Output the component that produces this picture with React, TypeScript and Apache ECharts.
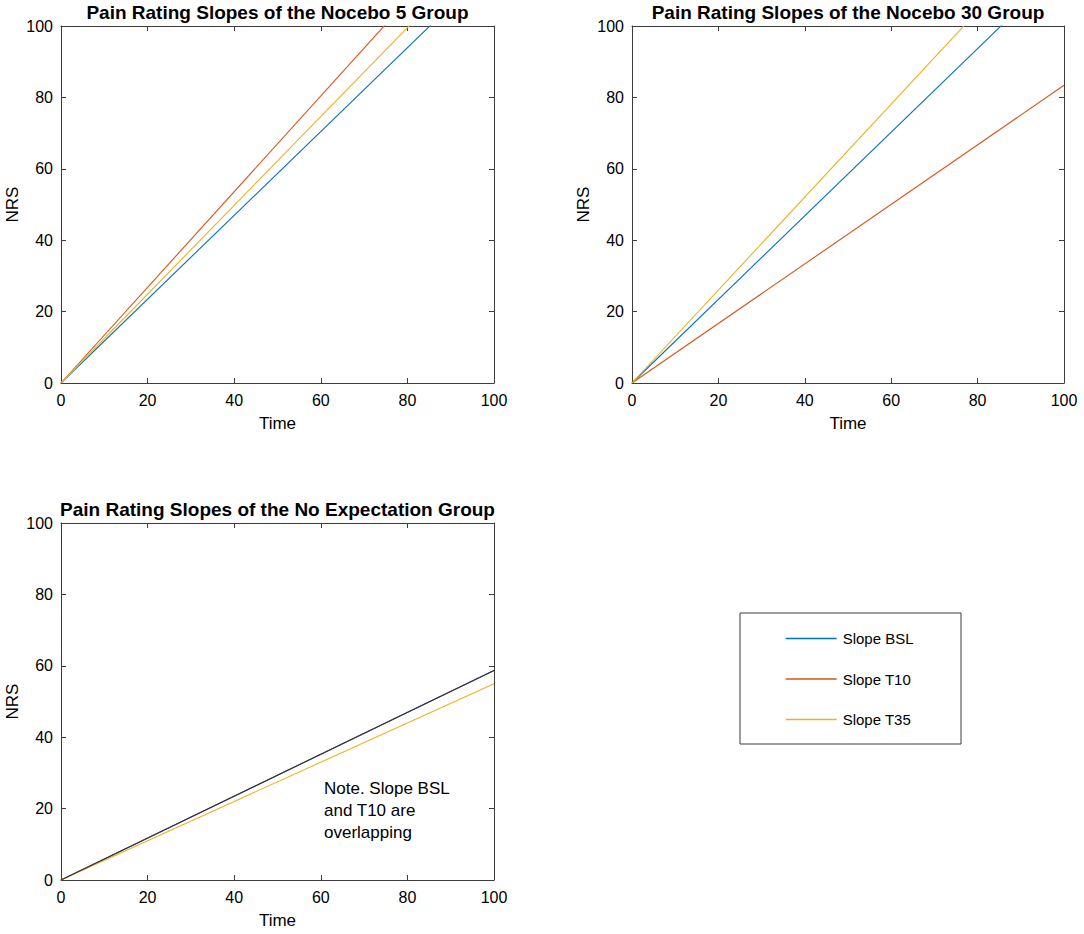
import React, { useEffect, useRef } from "react";
import * as echarts from "echarts";

const seriesNames = ["Slope BSL", "Slope T10", "Slope T35"];
const seriesColors = ["#0072BD", "#D95319", "#EDB120"];
const timePoints = [0, 100];
const titles = [
  "Pain Rating Slopes of the Nocebo 5 Group",
  "Pain Rating Slopes of the Nocebo 30 Group",
  "Pain Rating Slopes of the No Expectation Group",
];
// NRS value at Time = 0 and Time = 100 for each slope (lines start at 0)
const nocebo5End = [117.4, 134.0, 124.4];
const nocebo30End = [117.1, 83.4, 130.2];
const noExpectationEnd = [58.7, 58.7, 55.0];
const panelEnds = [nocebo5End, nocebo30End, noExpectationEnd];
const noteText = "Note. Slope BSL\nand T10 are\noverlapping";

const FONT = "'Liberation Sans', Arial, Helvetica, sans-serif";
const AXIS_COLOR = "#3c3c3c";

const grids = [
  { left: 61, top: 26, width: 433, height: 357 },
  { left: 632, top: 26, width: 432, height: 357 },
  { left: 61, top: 523, width: 433, height: 357 },
];

export default function App() {
  const ref = useRef<HTMLDivElement>(null);
  useEffect(() => {
    if (!ref.current) return;
    const chart = echarts.init(ref.current, undefined, { renderer: "svg" });

    const xAxes: any[] = [];
    const yAxes: any[] = [];
    const series: any[] = [];
    const title: any[] = [];

    grids.forEach((g, i) => {
      const baseAxis = {
        type: "value",
        gridIndex: i,
        min: 0,
        max: 100,
        interval: 20,
        axisLine: { show: true, onZero: false, lineStyle: { color: AXIS_COLOR, width: 1 } },
        axisTick: { show: true, inside: true, length: 5, lineStyle: { color: AXIS_COLOR } },
        splitLine: { show: false },
      };
      xAxes.push({
        ...baseAxis,
        position: "bottom",
        name: "Time",
        nameLocation: "middle",
        nameGap: 32,
        nameTextStyle: { fontFamily: FONT, fontSize: 17, color: "#000" },
        axisLabel: { show: true, margin: 9, fontFamily: FONT, fontSize: 16, color: "#000" },
      });
      xAxes.push({ ...baseAxis, position: "top", axisLabel: { show: false } });
      yAxes.push({
        ...baseAxis,
        position: "left",
        name: "NRS",
        nameLocation: "middle",
        nameGap: 40,
        nameTextStyle: { fontFamily: FONT, fontSize: 17, color: "#000" },
        axisLabel: { show: true, margin: 8, fontFamily: FONT, fontSize: 16, color: "#000" },
      });
      yAxes.push({ ...baseAxis, position: "right", axisLabel: { show: false } });

      title.push({
        text: titles[i],
        left: g.left + g.width / 2,
        top: g.top - 23,
        textAlign: "center",
        padding: 0,
        textStyle: { fontFamily: FONT, fontSize: 19, fontWeight: "bold", color: "#000" },
      });

      const ends = panelEnds[i];
      seriesNames.forEach((name, k) => {
        let color = seriesColors[k];
        // In the No Expectation panel BSL and T10 overlap, giving a dark blended line
        if (i === 2 && k === 1) color = "#4a2a30";
        series.push({
          type: "line",
          name,
          xAxisIndex: 2 * i,
          yAxisIndex: 2 * i,
          data: timePoints.map((t, j) => [t, j === 0 ? 0 : ends[k]]),
          showSymbol: false,
          symbol: "none",
          clip: true,
          z: i === 2 && k === 1 ? 4 : 3,
          lineStyle: { color, width: 1.1 },
          itemStyle: { color: seriesColors[k] },
          emphasis: { disabled: true },
        });
      });
    });

    chart.setOption({
      animation: false,
      backgroundColor: "#fff",
      title,
      grid: grids.map((g) => ({ ...g, containLabel: false, show: false })),
      xAxis: xAxes,
      yAxis: yAxes,
      series,
      legend: {
        data: seriesNames.map((n, k) => ({
          name: n,
          itemStyle: { color: seriesColors[k], opacity: 0 },
          lineStyle: { color: seriesColors[k], width: 1.3, opacity: 1 },
        })),
        itemStyle: { opacity: 0 },
        orient: "vertical",
        left: 785,
        top: 631,
        padding: 0,
        itemWidth: 51,
        itemHeight: 14,
        itemGap: 25.5,
        selectedMode: false,
        textStyle: { fontFamily: FONT, fontSize: 15, color: "#000", padding: [0, 0, 0, 1] },
      },
      graphic: [
        {
          type: "rect",
          shape: { x: 740, y: 613, width: 221, height: 131 },
          style: { fill: "#fff", stroke: "#3c3c3c", lineWidth: 1 },
          z: -1,
          silent: true,
        },
        {
          type: "text",
          x: 324,
          y: 777,
          style: {
            text: noteText,
            fontFamily: FONT,
            fontSize: 17,
            lineHeight: 22,
            fill: "#000",
            align: "left",
            verticalAlign: "top",
          },
          silent: true,
        },
      ],
    });
    return () => chart.dispose();
  }, []);
  return (
    <div
      ref={ref}
      style={{ position: "absolute", left: 0, top: 0, width: 1084, height: 934, background: "#fff" }}
    />
  );
}
